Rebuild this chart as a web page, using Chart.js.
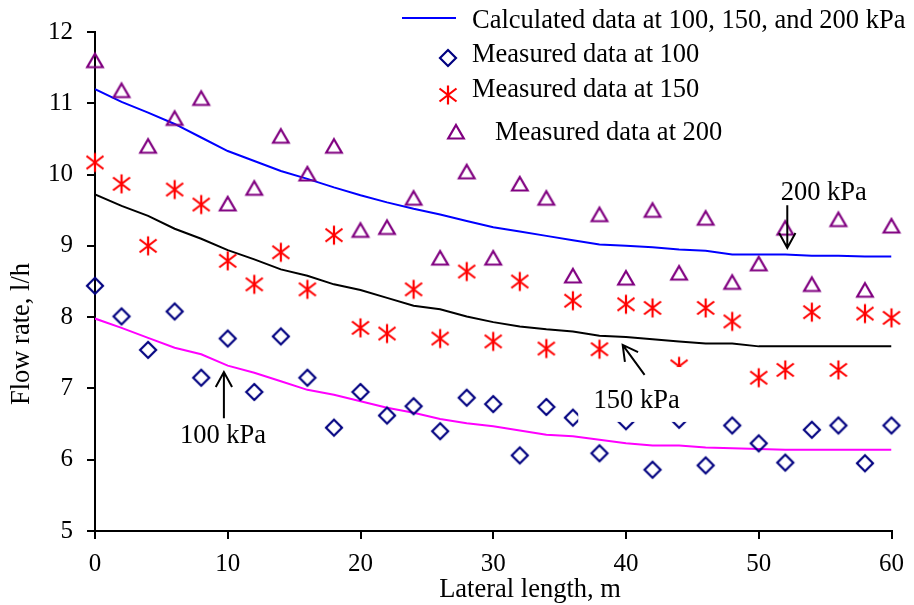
<!DOCTYPE html>
<html>
<head>
<meta charset="utf-8">
<script src="https://cdn.jsdelivr.net/npm/chart.js@4.4.0/dist/chart.umd.min.js"></script>
<style>
html,body{margin:0;padding:0;background:#fff;}
canvas{display:block;}
</style>
</head>
<body>
<canvas id="c" width="914" height="605"></canvas>
<script>
// ---- Data ----
const lengths = [0, 2, 4, 6, 8, 10, 12, 14, 16, 18, 20, 22, 24, 26, 28, 30, 32, 34, 36, 38, 40, 42, 44, 46, 48, 50, 52, 54, 56, 58, 60];
const measured100 = [8.44, 8.01, 7.54, 8.08, 7.15, 7.70, 6.95, 7.73, 7.15, 6.45, 6.95, 6.62, 6.75, 6.40, 6.87, 6.78, 6.06, 6.74, 6.59, 6.09, 6.54, 5.86, 6.56, 5.92, 6.48, 6.23, 5.96, 6.42, 6.48, 5.95, 6.48];
const measured150 = [10.17, 9.87, 9.00, 9.79, 9.58, 8.79, 8.46, 8.91, 8.39, 9.15, 7.85, 7.77, 8.39, 7.70, 8.64, 7.66, 8.50, 7.56, 8.23, 7.55, 8.18, 8.13, 7.31, 8.13, 7.94, 7.15, 7.26, 8.07, 7.26, 8.05, 7.99];
const measured200 = [11.57, 11.15, 10.37, 10.76, 11.04, 9.56, 9.78, 10.51, 9.98, 10.37, 9.19, 9.23, 9.64, 8.80, 10.01, 8.80, 9.84, 9.64, 8.55, 9.41, 8.52, 9.47, 8.59, 9.36, 8.46, 8.72, 9.22, 8.43, 9.34, 8.35, 9.25];
const calculated200 = [11.20, 11.02, 10.87, 10.71, 10.52, 10.33, 10.19, 10.05, 9.94, 9.82, 9.71, 9.61, 9.52, 9.44, 9.35, 9.26, 9.20, 9.14, 9.08, 9.02, 9.00, 8.98, 8.95, 8.93, 8.88, 8.88, 8.88, 8.86, 8.86, 8.85, 8.85];
const calculated150 = [9.72, 9.56, 9.42, 9.24, 9.10, 8.94, 8.81, 8.67, 8.58, 8.46, 8.38, 8.27, 8.16, 8.11, 8.01, 7.93, 7.87, 7.83, 7.80, 7.74, 7.72, 7.69, 7.66, 7.63, 7.63, 7.59, 7.59, 7.59, 7.59, 7.59, 7.59];
const calculated100 = [7.98, 7.85, 7.71, 7.57, 7.48, 7.32, 7.22, 7.10, 6.98, 6.91, 6.82, 6.73, 6.66, 6.57, 6.51, 6.47, 6.41, 6.35, 6.33, 6.28, 6.23, 6.20, 6.20, 6.17, 6.16, 6.15, 6.14, 6.14, 6.14, 6.14, 6.14];

const legendLabels = ["Calculated data at 100, 150, and 200 kPa", "Measured data at 100", "Measured data at 150", "Measured data at 200"];
const xTitle = "Lateral length, m";
const yTitle = "Flow rate, l/h";
const xTicks = [0, 10, 20, 30, 40, 50, 60];
const yTicks = [5, 6, 7, 8, 9, 10, 11, 12];
// annotations in data units: label position, arrow tail, arrow head, optional white box
const annotations = [
  {label: "200 kPa", tx: 54.9, ty: 9.64, ax1: 52.15, ay1: 9.57, ax2: 52.15, ay2: 8.97, box: null},
  {label: "150 kPa", tx: 40.8, ty: 6.72, ax1: 41.4, ay1: 7.19, ax2: 39.75, ay2: 7.61, box: [36.4, 7.30, 44.8, 6.53]},
  {label: "100 kPa", tx: 9.64, ty: 6.23, ax1: 9.71, ay1: 6.58, ax2: 9.71, ay2: 7.23, box: null}
];

const FONT = "'Liberation Serif', 'Times New Roman', serif";

function toXY(arr){ return lengths.map((x,i)=>({x:x, y:arr[i]})); }

function makeMarker(size, draw){
  const c = document.createElement('canvas');
  c.width = size; c.height = size;
  const g = c.getContext('2d');
  draw(g, size/2);
  return c;
}
const starImg = makeMarker(24, (g, m) => {
  g.strokeStyle = '#ff0000'; g.lineWidth = 2.2;
  g.beginPath();
  g.moveTo(m, m-9.5); g.lineTo(m, m+9.5);
  g.moveTo(m-8.5, m-6.5); g.lineTo(m+8.5, m+6.5);
  g.moveTo(m-8.5, m+6.5); g.lineTo(m+8.5, m-6.5);
  g.stroke();
});
const diamondImg = makeMarker(24, (g, m) => {
  const r = 8;
  g.strokeStyle = '#000080'; g.lineWidth = 2.2;
  g.beginPath(); g.moveTo(m, m-r); g.lineTo(m+r, m); g.lineTo(m, m+r); g.lineTo(m-r, m); g.closePath(); g.stroke();
});
const triangleImg = makeMarker(26, (g, m) => {
  const r = 9;
  g.strokeStyle = '#800080'; g.lineWidth = 2.2;
  g.beginPath();
  for (let k=0;k<3;k++){ const a = k*2*Math.PI/3; const px = m + Math.sin(a)*r, py = m - Math.cos(a)*r; if(k===0) g.moveTo(px,py); else g.lineTo(px,py); }
  g.closePath(); g.stroke();
});

function arrow(ctx, x1, y1, x2, y2){
  const ang = Math.atan2(y2-y1, x2-x1);
  const L = 17, A = 0.5;
  ctx.beginPath();
  ctx.moveTo(x1,y1); ctx.lineTo(x2,y2);
  ctx.moveTo(x2 - L*Math.cos(ang - A), y2 - L*Math.sin(ang - A));
  ctx.lineTo(x2, y2);
  ctx.lineTo(x2 - L*Math.cos(ang + A), y2 - L*Math.sin(ang + A));
  ctx.stroke();
}

const overlay = {
  id: 'overlay',
  afterDatasetsDraw(chart){
    const ctx = chart.ctx;
    const xs = chart.scales.x, ys = chart.scales.y;
    ctx.save();
    ctx.font = "26.5px " + FONT;
    ctx.fillStyle = '#000'; ctx.strokeStyle = '#000'; ctx.lineWidth = 2;
    annotations.forEach(a => {
      if (a.box){
        const bx1 = xs.getPixelForValue(a.box[0]), by1 = ys.getPixelForValue(a.box[1]);
        const bx2 = xs.getPixelForValue(a.box[2]), by2 = ys.getPixelForValue(a.box[3]);
        ctx.fillStyle = '#fff'; ctx.fillRect(bx1, by1, bx2-bx1, by2-by1); ctx.fillStyle = '#000';
      }
      ctx.textAlign = 'center'; ctx.textBaseline = 'alphabetic';
      ctx.fillText(a.label, xs.getPixelForValue(a.tx), ys.getPixelForValue(a.ty));
      ctx.strokeStyle = '#000';
      arrow(ctx, xs.getPixelForValue(a.ax1), ys.getPixelForValue(a.ay1), xs.getPixelForValue(a.ax2), ys.getPixelForValue(a.ay2));
    });
    // legend
    const L = chart.chartArea;
    const lx = L.left + 307;
    ctx.textAlign = 'left'; ctx.textBaseline = 'alphabetic'; ctx.fillStyle = '#000';
    ctx.strokeStyle = '#0000ff'; ctx.lineWidth = 2;
    ctx.beginPath(); ctx.moveTo(lx, 18); ctx.lineTo(lx + 54, 18); ctx.stroke();
    ctx.fillText(legendLabels[0], lx + 70, 28);
    ctx.drawImage(diamondImg, lx + 46 - 12, 58 - 12);
    ctx.fillText(legendLabels[1], lx + 70, 62);
    ctx.drawImage(starImg, lx + 46 - 12, 95 - 12);
    ctx.fillText(legendLabels[2], lx + 70, 97);
    ctx.drawImage(triangleImg, lx + 54 - 13, 134 - 13);
    ctx.fillText(legendLabels[3], lx + 93, 140);
    // axis titles
    ctx.textAlign = 'center';
    ctx.fillText(xTitle, 530, 597);
    ctx.save(); ctx.translate(29, 334); ctx.rotate(-Math.PI/2);
    ctx.fillText(yTitle, 0, 0); ctx.restore();
    ctx.restore();
  }
};

new Chart(document.getElementById('c'), {
  type: 'scatter',
  data: {
    datasets: [
      {label: 'calc200', data: toXY(calculated200), showLine: true, borderColor: '#0000ff', borderWidth: 2, pointRadius: 0, tension: 0, order: 5},
      {label: 'calc150', data: toXY(calculated150), showLine: true, borderColor: '#000000', borderWidth: 2, pointRadius: 0, tension: 0, order: 5},
      {label: 'calc100', data: toXY(calculated100), showLine: true, borderColor: '#ff00ff', borderWidth: 2, pointRadius: 0, tension: 0, order: 5},
      {label: legendLabels[1], data: toXY(measured100), pointStyle: diamondImg, pointRadius: 8, clip: false, order: 1},
      {label: legendLabels[2], data: toXY(measured150), pointStyle: starImg, pointRadius: 9, clip: false, order: 1},
      {label: legendLabels[3], data: toXY(measured200), pointStyle: triangleImg, pointRadius: 9, clip: false, order: 1}
    ]
  },
  options: {
    responsive: false,
    animation: false,
    layout: {padding: {top: 32, right: 22, left: 0, bottom: 0}},
    plugins: {legend: {display: false}, tooltip: {enabled: false}},
    scales: {
      x: {
        type: 'linear', min: 0, max: 60,
        afterBuildTicks: s => { s.ticks = xTicks.map(v => ({value: v})); },
        afterFit: s => { s.height = 74; },
        grid: {drawOnChartArea: false, drawTicks: true, tickLength: 8, color: '#000', lineWidth: 2},
        border: {display: true, color: '#000', width: 2},
        ticks: {color: '#000', font: {family: FONT, size: 25}, padding: 10, maxRotation: 0}
      },
      y: {
        type: 'linear', min: 5, max: 12,
        afterBuildTicks: s => { s.ticks = yTicks.map(v => ({value: v})); },
        afterFit: s => { s.width = 95; },
        grid: {drawOnChartArea: false, drawTicks: true, tickLength: 8, color: '#000', lineWidth: 2},
        border: {display: true, color: '#000', width: 2},
        ticks: {color: '#000', font: {family: FONT, size: 25}, padding: 14}
      }
    }
  },
  plugins: [overlay]
});
</script>
</body>
</html>
